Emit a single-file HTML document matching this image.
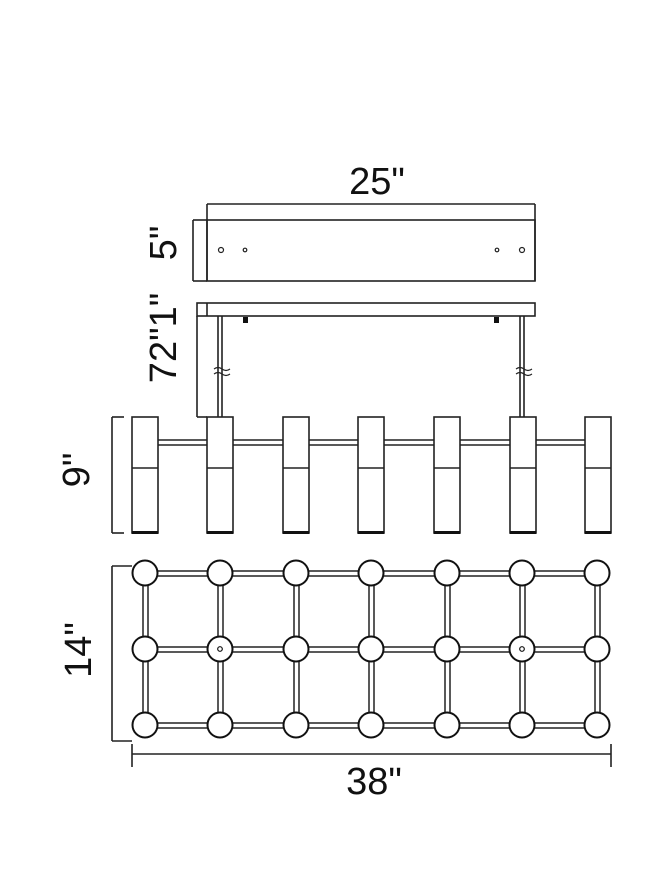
<!DOCTYPE html>
<html><head><style>
html,body{margin:0;padding:0;background:#fff;}
svg{display:block}
text{font-family:"Liberation Sans",Arial,sans-serif;fill:#111;}
</style></head><body>
<svg width="668" height="886" viewBox="0 0 668 886" xmlns="http://www.w3.org/2000/svg">
<g stroke="#222" stroke-width="1.6" fill="none">
<!-- canopy -->
<line x1="207" y1="204" x2="535" y2="204"/>
<line x1="207" y1="204" x2="207" y2="281"/>
<line x1="535" y1="204" x2="535" y2="281"/>
<rect x="207" y="220" width="328" height="61"/>
<line x1="193" y1="220" x2="207" y2="220"/>
<line x1="193" y1="220" x2="193" y2="281"/>
<line x1="193" y1="281" x2="207" y2="281"/>
<circle cx="221" cy="250" r="2.5" stroke-width="1.2"/>
<circle cx="245" cy="250" r="1.8" stroke-width="1.2"/>
<circle cx="497" cy="250" r="1.8" stroke-width="1.2"/>
<circle cx="522" cy="250" r="2.5" stroke-width="1.2"/>
<!-- bar -->
<rect x="197" y="303" width="338" height="13"/>
<line x1="207" y1="303" x2="207" y2="316"/>
<line x1="197" y1="316" x2="197" y2="417"/>
<line x1="197" y1="417" x2="207" y2="417"/>
<!-- rods -->
<line x1="218" y1="316" x2="218" y2="417"/>
<line x1="222" y1="316" x2="222" y2="417"/>
<line x1="520" y1="316" x2="520" y2="417"/>
<line x1="524" y1="316" x2="524" y2="417"/>
<path d="M214 369 q4 -3 8 0 q4 3 8 0 M214 374 q4 -3 8 0 q4 3 8 0" stroke-width="1.1"/>
<path d="M516 369 q4 -3 8 0 q4 3 8 0 M516 374 q4 -3 8 0 q4 3 8 0" stroke-width="1.1"/>
</g>
<rect x="243" y="317" width="5" height="6" fill="#111"/>
<rect x="494" y="317" width="5" height="6" fill="#111"/>
<!-- cylinders -->
<g stroke="#222" stroke-width="1.6" fill="none">
<line x1="112" y1="417" x2="112" y2="533"/>
<line x1="112" y1="417" x2="124" y2="417"/>
<line x1="112" y1="533" x2="124" y2="533"/>
<g id="bars">
<line x1="158" y1="440" x2="207" y2="440"/><line x1="158" y1="445" x2="207" y2="445"/>
<line x1="233" y1="440" x2="283" y2="440"/><line x1="233" y1="445" x2="283" y2="445"/>
<line x1="309" y1="440" x2="358" y2="440"/><line x1="309" y1="445" x2="358" y2="445"/>
<line x1="384" y1="440" x2="434" y2="440"/><line x1="384" y1="445" x2="434" y2="445"/>
<line x1="460" y1="440" x2="510" y2="440"/><line x1="460" y1="445" x2="510" y2="445"/>
<line x1="536" y1="440" x2="585" y2="440"/><line x1="536" y1="445" x2="585" y2="445"/>
</g>
<rect x="132" y="417" width="26" height="116"/><line x1="132" y1="468" x2="158" y2="468"/>
<rect x="207" y="417" width="26" height="116"/><line x1="207" y1="468" x2="233" y2="468"/>
<rect x="283" y="417" width="26" height="116"/><line x1="283" y1="468" x2="309" y2="468"/>
<rect x="358" y="417" width="26" height="116"/><line x1="358" y1="468" x2="384" y2="468"/>
<rect x="434" y="417" width="26" height="116"/><line x1="434" y1="468" x2="460" y2="468"/>
<rect x="510" y="417" width="26" height="116"/><line x1="510" y1="468" x2="536" y2="468"/>
<rect x="585" y="417" width="26" height="116"/><line x1="585" y1="468" x2="611" y2="468"/>
</g>
<g fill="#111">
<rect x="132" y="531" width="26" height="3"/><rect x="207" y="531" width="26" height="3"/>
<rect x="283" y="531" width="26" height="3"/><rect x="358" y="531" width="26" height="3"/>
<rect x="434" y="531" width="26" height="3"/><rect x="510" y="531" width="26" height="3"/>
<rect x="585" y="531" width="26" height="3"/>
</g>
<!-- grid -->
<g stroke="#222" stroke-width="1.6" fill="none">
<line x1="112" y1="566" x2="132" y2="566"/>
<line x1="112" y1="566" x2="112" y2="741"/>
<line x1="112" y1="741" x2="132" y2="741"/>
<line x1="132" y1="744" x2="132" y2="767"/>
<line x1="611" y1="744" x2="611" y2="767"/>
<line x1="132" y1="754" x2="611" y2="754"/>
</g>
<g stroke="#222" stroke-width="1.5" fill="none">
<!-- horizontal double lines -->
<path d="M145 571H597M145 576H597M145 647H597M145 652H597M145 723H597M145 728H597"/>
<!-- vertical double lines -->
<path d="M143 573V725M148 573V725M218 573V725M223 573V725M294 573V725M299 573V725M369 573V725M374 573V725M445 573V725M450 573V725M520 573V725M525 573V725M595 573V725M600 573V725"/>
</g>
<g stroke="#111" stroke-width="2" fill="#fff">
<circle cx="145" cy="573" r="12.5"/><circle cx="220" cy="573" r="12.5"/><circle cx="296" cy="573" r="12.5"/><circle cx="371" cy="573" r="12.5"/><circle cx="447" cy="573" r="12.5"/><circle cx="522" cy="573" r="12.5"/><circle cx="597" cy="573" r="12.5"/>
<circle cx="145" cy="649" r="12.5"/><circle cx="220" cy="649" r="12.5"/><circle cx="296" cy="649" r="12.5"/><circle cx="371" cy="649" r="12.5"/><circle cx="447" cy="649" r="12.5"/><circle cx="522" cy="649" r="12.5"/><circle cx="597" cy="649" r="12.5"/>
<circle cx="145" cy="725" r="12.5"/><circle cx="220" cy="725" r="12.5"/><circle cx="296" cy="725" r="12.5"/><circle cx="371" cy="725" r="12.5"/><circle cx="447" cy="725" r="12.5"/><circle cx="522" cy="725" r="12.5"/><circle cx="597" cy="725" r="12.5"/>
<circle cx="220" cy="649" r="2.3" stroke-width="1.2"/><circle cx="522" cy="649" r="2.3" stroke-width="1.2"/>
</g>
<!-- labels -->
<text x="377" y="194" font-size="38" text-anchor="middle">25"</text>
<text x="374" y="794" font-size="38" text-anchor="middle">38"</text>
<text transform="translate(176,243) rotate(-90)" font-size="38" text-anchor="middle">5"</text>
<text transform="translate(176,338) rotate(-90)" font-size="38" text-anchor="middle">72"1"</text>
<text transform="translate(89,470) rotate(-90)" font-size="38" text-anchor="middle">9"</text>
<text transform="translate(91,650) rotate(-90)" font-size="38" text-anchor="middle">14"</text>
</svg>
</body></html>
